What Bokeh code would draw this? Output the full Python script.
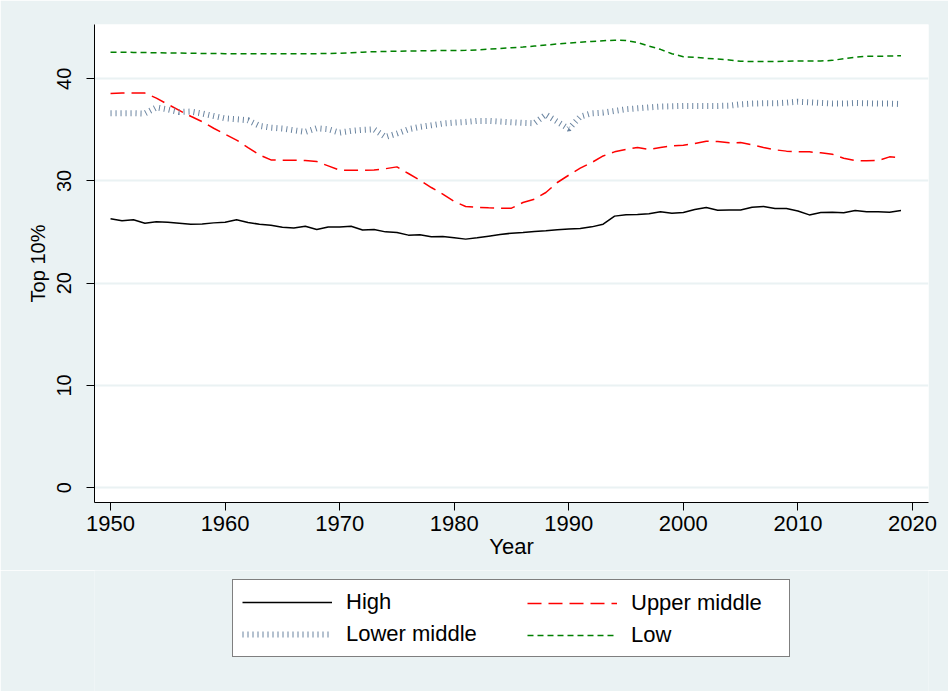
from bokeh.plotting import figure
from bokeh.models import FixedTicker, Range1d, Legend, LegendItem
from bokeh.layouts import column
from bokeh.embed import file_html
from bokeh.resources import INLINE

years = list(range(1950, 2020))

high = [26.3, 26.1, 26.2, 25.87, 26.0, 25.97, 25.87, 25.77, 25.8, 25.9,
        25.97, 26.2, 25.94, 25.77, 25.67, 25.47, 25.4, 25.57, 25.25, 25.5,
        25.5, 25.57, 25.2, 25.25, 25.02, 24.96, 24.7, 24.73, 24.54, 24.57,
        24.44, 24.31, 24.44, 24.6, 24.76, 24.89, 24.96, 25.06, 25.12, 25.22,
        25.29, 25.35, 25.51, 25.77, 26.56, 26.69, 26.72, 26.8, 26.98, 26.85,
        26.91, 27.2, 27.4, 27.14, 27.17, 27.17, 27.43, 27.5, 27.3, 27.3,
        27.07, 26.68, 26.91, 26.95, 26.88, 27.1, 27.0, 26.98, 26.95, 27.1]

upper_middle = [38.55, 38.6, 38.6, 38.6, 38.1, 37.5, 36.9, 36.33, 35.8, 35.16,
                34.57, 34.0, 33.27, 32.55, 32.06, 32.03, 32.03, 32.0, 31.9, 31.48,
                31.05, 31.05, 31.05, 31.08, 31.2, 31.38, 30.73, 30.08, 29.36, 28.71,
                27.99, 27.5, 27.43, 27.37, 27.34, 27.34, 27.89, 28.22, 28.87, 29.85,
                30.57, 31.25, 31.8, 32.45, 32.85, 33.1, 33.27, 33.1, 33.27, 33.43,
                33.5, 33.66, 33.89, 33.86, 33.73, 33.76, 33.53, 33.27, 33.05, 32.92,
                32.85, 32.85, 32.75, 32.62, 32.23, 32.0, 31.97, 32.0, 32.36, 32.3]

lower_middle = [36.63, 36.63, 36.63, 36.6, 37.2, 37.0, 36.75, 36.79, 36.6, 36.36,
                36.13, 36.04, 35.94, 35.39, 35.22, 35.13, 34.96, 34.8, 35.16, 35.06,
                34.73, 34.9, 35.0, 35.06, 34.3, 34.64, 35.06, 35.29, 35.45, 35.62,
                35.71, 35.78, 35.88, 35.88, 35.81, 35.75, 35.68, 35.65, 36.5, 35.8,
                35.1, 36.3, 36.62, 36.69, 36.85, 37.02, 37.11, 37.2, 37.28, 37.31,
                37.34, 37.34, 37.34, 37.34, 37.37, 37.5, 37.57, 37.6, 37.6, 37.66,
                37.76, 37.7, 37.63, 37.57, 37.57, 37.63, 37.6, 37.57, 37.57, 37.53]

low = [42.6, 42.6, 42.58, 42.56, 42.55, 42.53, 42.52, 42.5, 42.48, 42.47,
       42.46, 42.45, 42.45, 42.45, 42.45, 42.45, 42.45, 42.45, 42.46, 42.48,
       42.5, 42.55, 42.6, 42.65, 42.67, 42.7, 42.71, 42.73, 42.75, 42.76,
       42.77, 42.78, 42.83, 42.9, 42.96, 43.03, 43.1, 43.2, 43.3, 43.4,
       43.5, 43.58, 43.65, 43.72, 43.77, 43.75, 43.55, 43.2, 42.88, 42.45,
       42.16, 42.1, 42.0, 41.93, 41.84, 41.71, 41.68, 41.68, 41.68, 41.71,
       41.74, 41.74, 41.74, 41.8, 41.96, 42.1, 42.2, 42.2, 42.23, 42.26]

series_labels = ["High", "Upper middle", "Lower middle", "Low"]
x_ticks = [1950, 1960, 1970, 1980, 1990, 2000, 2010, 2020]
y_ticks = [0, 10, 20, 30, 40]

BG = "#EAF2F3"
FONT = "Liberation Sans"
FS = "22px"
FS_Y = "20px"

STYLES = {
    "High": dict(line_color="black", line_width=1.5),
    "Upper middle": dict(line_color="red", line_width=1.5, line_dash="14 7"),
    "Lower middle": dict(line_color="#6A84A0", line_width=6, line_dash="1 4"),
    "Low": dict(line_color="#008000", line_width=1.5, line_dash="6 4"),
}
values = {"High": high, "Upper middle": upper_middle,
          "Lower middle": lower_middle, "Low": low}

p = figure(width=948, height=570, output_backend="svg", toolbar_location=None,
           x_range=Range1d(1948.6, 2021.4), y_range=Range1d(-1.46, 45.31),
           min_border_left=94, min_border_right=20, min_border_top=24,
           min_border_bottom=68,
           background_fill_color="white", border_fill_color=BG,
           outline_line_color=None)

for name in series_labels:
    p.line(years, values[name], **STYLES[name])

p.xaxis.ticker = FixedTicker(ticks=x_ticks)
p.yaxis.ticker = FixedTicker(ticks=y_ticks)
p.xaxis.axis_label = "Year"
p.yaxis.axis_label = "Top 10%"
for ax in (p.xaxis, p.yaxis):
    ax.axis_line_color = "black"
    ax.axis_line_width = 1
    ax.major_tick_line_color = "black"
    ax.major_tick_out = 8
    ax.major_tick_in = 0
    ax.minor_tick_line_color = None
    ax.major_label_text_font = FONT
    ax.major_label_text_color = "black"
    ax.axis_label_text_font = FONT
    ax.axis_label_text_font_style = "normal"
    ax.axis_label_text_color = "black"
p.xaxis.major_label_text_font_size = FS
p.xaxis.axis_label_text_font_size = FS
p.yaxis.major_label_text_font_size = FS_Y
p.yaxis.axis_label_text_font_size = FS_Y
p.yaxis.major_label_orientation = "vertical"
p.xaxis.major_label_standoff = 5
p.xaxis.axis_label_standoff = 0
p.yaxis.major_label_standoff = 15
p.yaxis.axis_label_standoff = 6

p.xgrid.grid_line_color = None
p.ygrid.ticker = FixedTicker(ticks=y_ticks)
p.ygrid.grid_line_color = BG
p.ygrid.grid_line_width = 2

# legend panel below the chart (its frame is aligned with the chart's frame)
q = figure(width=948, height=121, output_backend="svg", toolbar_location=None,
           x_range=Range1d(0, 1), y_range=Range1d(0, 1),
           x_axis_location=None, y_axis_location=None, min_border=0,
           background_fill_color=BG, border_fill_color=BG,
           outline_line_color=None)
q.grid.visible = False
# same series drawn out of view; they only supply the legend keys
keys = {name: q.line(years, values[name], **STYLES[name]) for name in series_labels}


def make_legend(names, loc, label_width, boxed):
    leg = Legend(items=[LegendItem(label=n, renderers=[keys[n]]) for n in names],
                 location=loc, orientation="vertical",
                 glyph_width=90, glyph_height=26, label_height=26,
                 label_width=label_width, label_standoff=14, spacing=6,
                 padding=9, margin=0,
                 label_text_font=FONT, label_text_font_size=FS,
                 label_text_color="black", label_text_baseline="middle")
    if boxed:
        leg.border_line_color = "black"
        leg.border_line_width = 1
        leg.background_fill_color = "white"
        leg.background_fill_alpha = 1
    else:
        leg.border_line_alpha = 0
        leg.background_fill_alpha = 0
    return leg


q.add_layout(make_legend(["High", "Lower middle"], (138, 34), 434, True))
q.add_layout(make_legend(["Upper middle", "Low"], (424, 34), 0, False))

page = column(p, q, spacing=0)
html = file_html(page, INLINE)
html = html.replace("<body>", '<body style="background:%s">' % BG, 1)
open("out.html", "w").write(html)
